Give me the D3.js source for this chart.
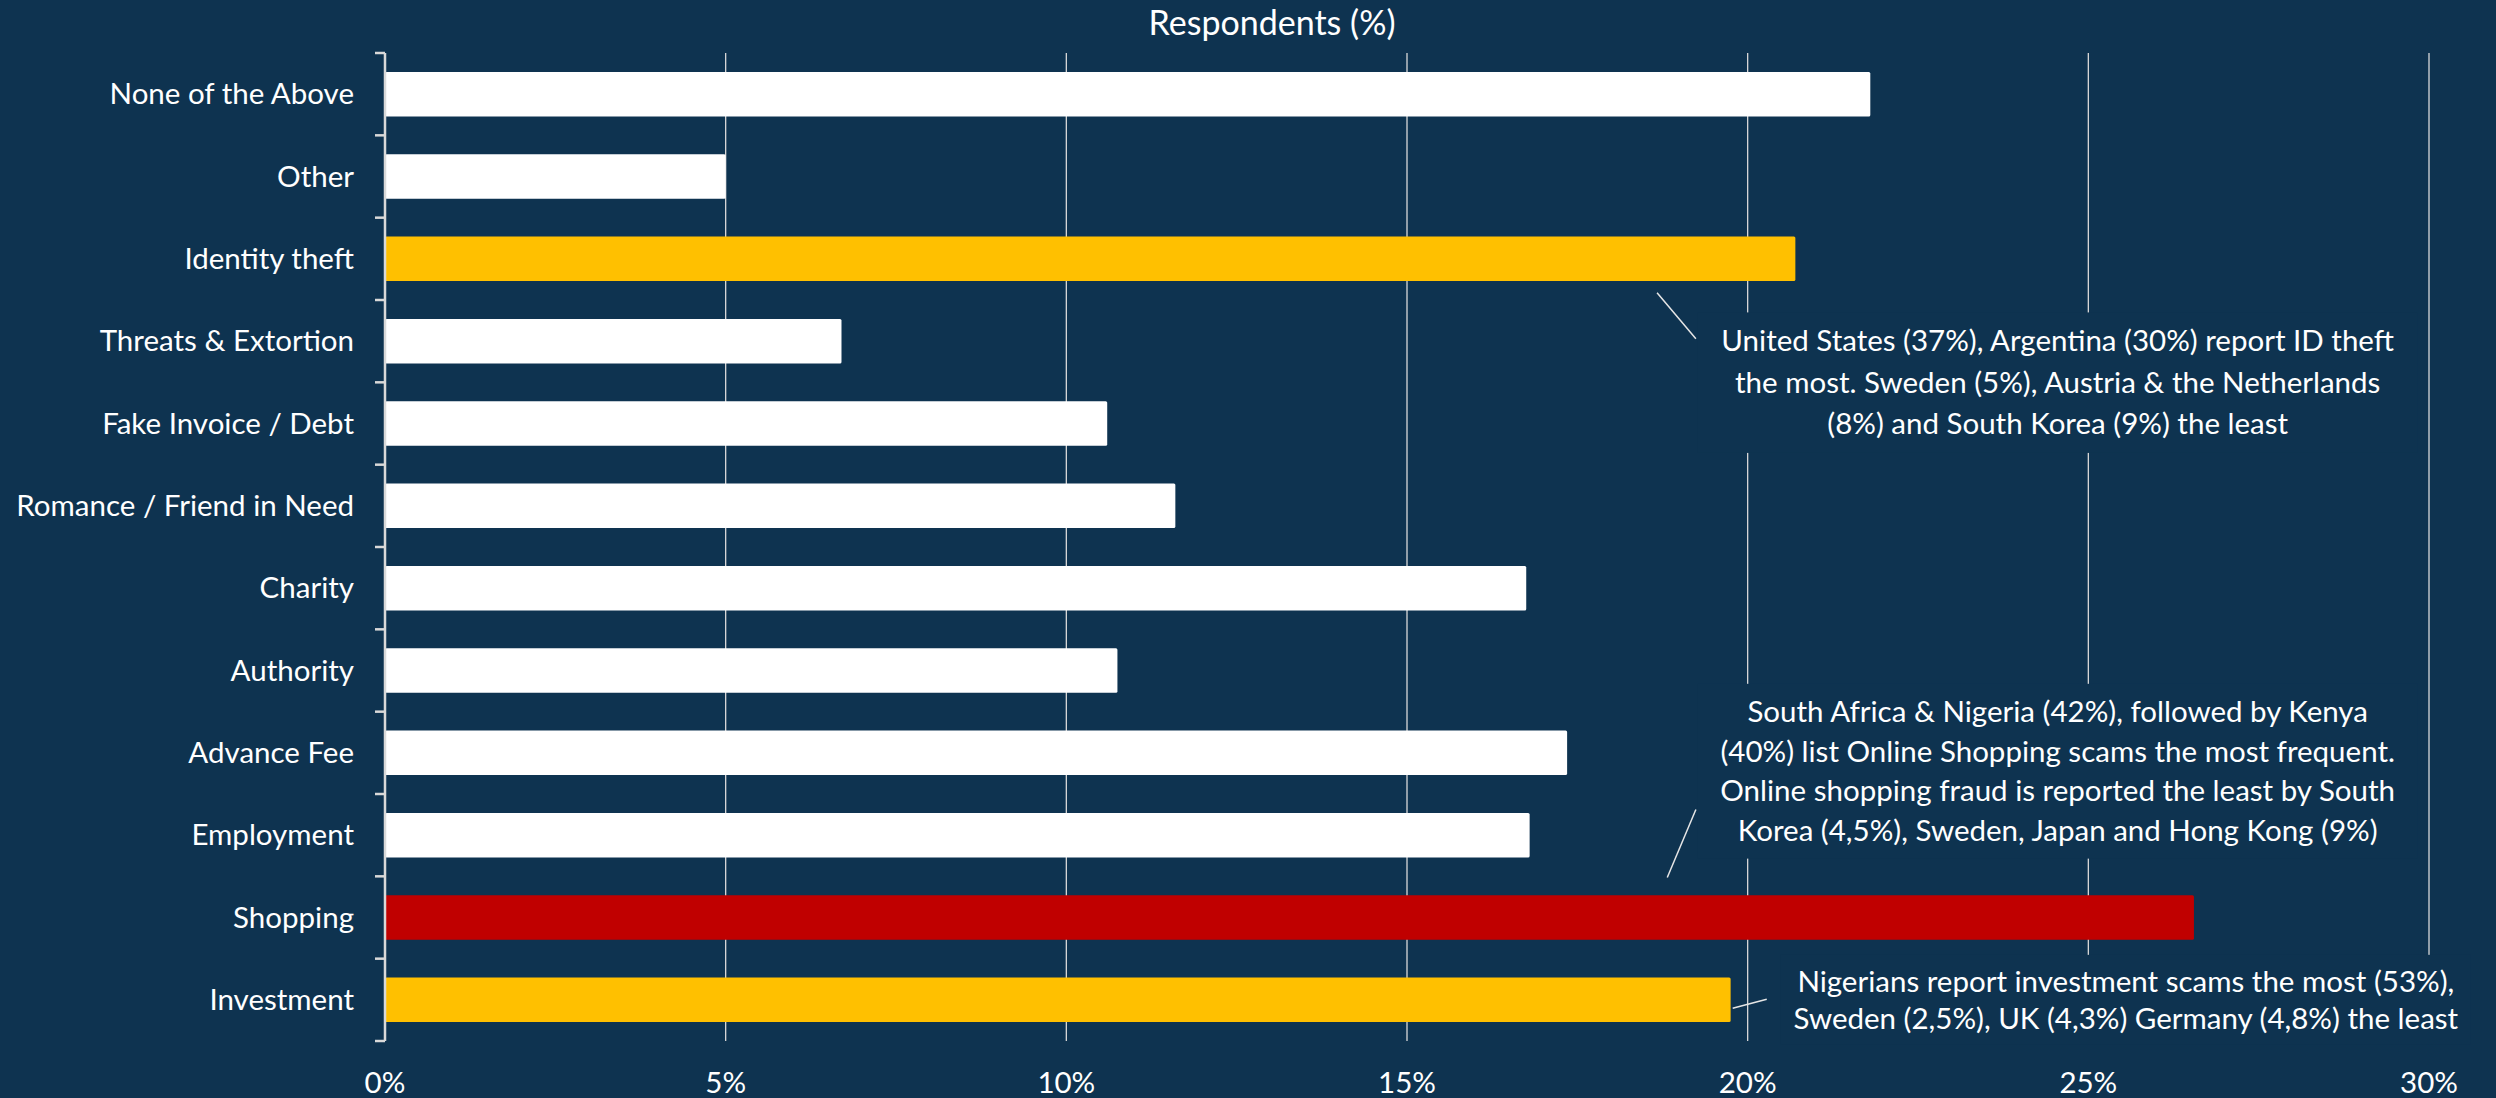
<!DOCTYPE html>
<html>
<head>
<meta charset="utf-8">
<script src="https://cdn.jsdelivr.net/npm/d3@7"></script>
<style>
  html, body { margin: 0; padding: 0; background: #0e3350; }
  svg { display: block; }
  text { font-family: Lato, "Liberation Sans", sans-serif; fill: #ffffff; }
</style>
</head>
<body>
<svg id="svg"></svg>
<script>
// Categories top to bottom and their share of respondents (%)
const categories = [
  'None of the Above', 'Other', 'Identity theft', 'Threats & Extortion',
  'Fake Invoice / Debt', 'Romance / Friend in Need', 'Charity', 'Authority',
  'Advance Fee', 'Employment', 'Shopping', 'Investment'
];
const values = [21.8, 5.0, 20.7, 6.7, 10.6, 11.6, 16.75, 10.75, 17.35, 16.8, 26.55, 19.75];

const xTicks = [0, 5, 10, 15, 20, 25, 30];
const xTitle = 'Respondents (%)';

// highlighted bars
const barColor = {
  'Identity theft': '#ffc000',
  'Shopping': '#c00000',
  'Investment': '#ffc000'
};

const idNote = [
  'United States (37%), Argentina (30%) report ID theft',
  'the most. Sweden (5%), Austria & the Netherlands',
  '(8%) and South Korea (9%) the least'
];
const shoppingNote = [
  'South Africa & Nigeria (42%), followed by Kenya',
  '(40%) list Online Shopping  scams the most frequent.',
  'Online shopping fraud is reported  the least by South',
  'Korea (4,5%), Sweden, Japan and Hong Kong (9%)'
];
const investmentNote = [
  'Nigerians report investment scams the most (53%),',
  'Sweden (2,5%), UK (4,3%) Germany (4,8%) the least'
];

const width = 2496;
const height = 1098;
const bg = '#0e3350';
const fs = '29.5px';
const margin = {top: 53, right: 67, bottom: 57, left: 385};

const svg = d3.select('#svg')
  .attr('width', width)
  .attr('height', height);

svg.append('rect')
  .attr('width', width)
  .attr('height', height)
  .attr('fill', bg);

const x = d3.scaleLinear()
  .domain([0, 30])
  .range([margin.left, width - margin.right]);

const y = d3.scaleBand()
  .domain(categories)
  .range([margin.top, height - margin.bottom])
  .paddingInner(0.46)
  .paddingOuter(0.23);

const step = y.step();
const yMid = (c) => y(c) + y.bandwidth() / 2;

// vertical gridlines
svg.append('g')
  .selectAll('line')
  .data(xTicks.filter(t => t > 0))
  .enter().append('line')
  .attr('x1', d => x(d)).attr('x2', d => x(d))
  .attr('y1', margin.top).attr('y2', height - margin.bottom)
  .attr('stroke', '#d9d9d9')
  .attr('stroke-width', 1.3);

// bars
svg.append('g')
  .selectAll('rect')
  .data(categories)
  .enter().append('rect')
  .attr('x', x(0))
  .attr('y', d => y(d))
  .attr('width', (d, i) => x(values[i]) - x(0))
  .attr('height', y.bandwidth())
  .attr('rx', 1.5)
  .attr('fill', d => barColor[d] || '#ffffff');

// category axis
const yAxis = svg.append('g');
yAxis.append('line')
  .attr('x1', x(0)).attr('x2', x(0))
  .attr('y1', margin.top).attr('y2', height - margin.bottom)
  .attr('stroke', '#d9d9d9')
  .attr('stroke-width', 2.5);
yAxis.selectAll('line.tick')
  .data(d3.range(categories.length + 1))
  .enter().append('line')
  .attr('class', 'tick')
  .attr('x1', x(0) - 10).attr('x2', x(0))
  .attr('y1', i => margin.top + i * step)
  .attr('y2', i => margin.top + i * step)
  .attr('stroke', '#d9d9d9')
  .attr('stroke-width', 2.5);
yAxis.selectAll('text')
  .data(categories)
  .enter().append('text')
  .attr('x', x(0) - 31)
  .attr('y', d => yMid(d))
  .attr('dy', '0.35em')
  .attr('text-anchor', 'end')
  .style('font-size', fs)
  .text(d => d);

// value axis labels
svg.append('g')
  .selectAll('text')
  .data(xTicks)
  .enter().append('text')
  .attr('x', d => x(d))
  .attr('y', 1093)
  .attr('text-anchor', 'middle')
  .style('font-size', fs)
  .text(d => d + '%');

svg.append('text')
  .attr('x', 1272)
  .attr('y', 35)
  .attr('text-anchor', 'middle')
  .style('font-size', '34px')
  .text(xTitle);

// callouts: box over gridlines, centred text, thin leader line
function callout(lines, cx, firstY, lineH, boxW, leader) {
  const g = svg.append('g');
  const top = firstY - lineH / 2 - 8;
  const h = lines.length * lineH + 16;
  g.append('rect')
    .attr('x', cx - boxW / 2).attr('y', top)
    .attr('width', boxW).attr('height', h)
    .attr('fill', bg);
  g.selectAll('text')
    .data(lines)
    .enter().append('text')
    .attr('x', cx)
    .attr('y', (d, i) => firstY + i * lineH)
    .attr('dy', '0.35em')
    .attr('text-anchor', 'middle')
    .style('font-size', fs)
    .text(d => d);
  g.append('line')
    .attr('x1', leader[0]).attr('y1', leader[1])
    .attr('x2', leader[2]).attr('y2', leader[3])
    .attr('stroke', '#e6e6e6')
    .attr('stroke-width', 1.5);
}

callout(idNote, x(24.55), yMid('Threats & Extortion'), 41.5, 720,
  [x(18.67), yMid('Identity theft') + 34, x(19.24), yMid('Identity theft') + 80]);

// first line sits on the boundary between Authority and Advance Fee
callout(shoppingNote, x(24.55), y('Advance Fee') - (step - y.bandwidth()) / 2, 39.7, 720,
  [x(19.24), yMid('Shopping') - 108, x(18.82), yMid('Shopping') - 40]);

callout(investmentNote, x(25.55), yMid('Investment') - 18.5, 37, 690,
  [x(19.78), yMid('Investment') + 8.5, x(20.28), yMid('Investment') - 0.5]);
</script>
</body>
</html>
